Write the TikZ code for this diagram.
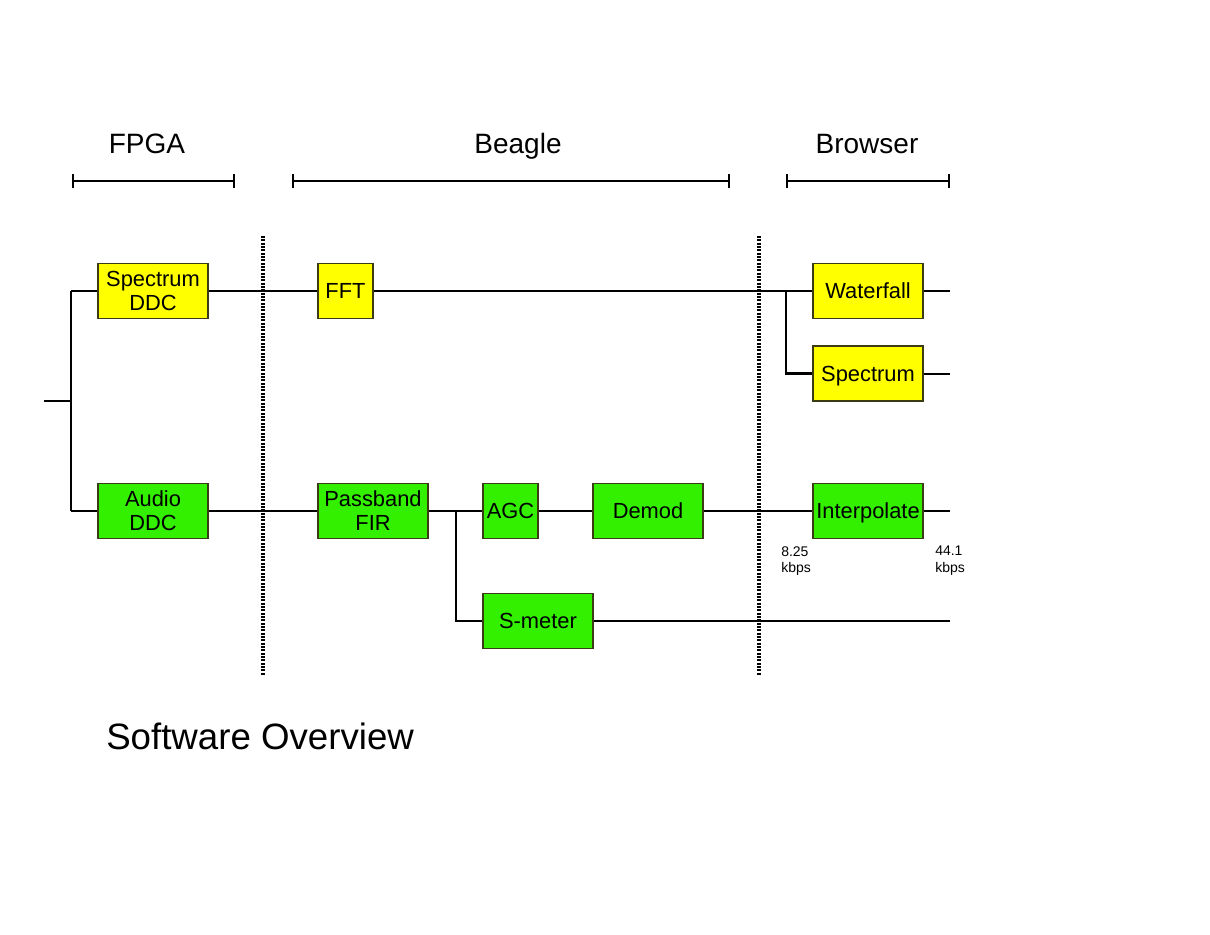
\documentclass[tikz,border=0pt]{standalone}
\usepackage{fontspec}
\setmainfont{Liberation Sans}
\definecolor{boxyellow}{RGB}{255,255,0}
\definecolor{boxgreen}{RGB}{51,240,0}
\definecolor{boxedge}{RGB}{60,60,20}
\begin{document}
\begin{tikzpicture}[x=0.75pt,y=-0.75pt,
  blk/.style={draw=boxedge,line width=0.8pt,minimum width=110*0.75pt,minimum height=55*0.75pt,inner sep=0pt,align=center,font=\fontsize{16.4}{18}\selectfont},
  one/.style={text height=11.8pt,text depth=0pt},
  sblk/.style={blk,minimum width=55*0.75pt},
  yel/.style={fill=boxyellow},
  grn/.style={fill=boxgreen},
  wire/.style={line width=1.5pt},
  sep/.style={line width=2.6pt,dash pattern=on 1.4pt off 1.1pt},
  brk/.style={line width=1.5pt,|-|},
  hdr/.style={font=\fontsize{21}{22}\selectfont,anchor=base,inner sep=0pt},
  rate/.style={font=\fontsize{10.5}{12.5}\selectfont,align=left,anchor=north west,inner sep=0pt}
]
\useasboundingbox (0,0) rectangle (1210,935);

% headers
\node[hdr] (hF) at (147,153.5) {FPGA};
\node[hdr] (hB) at (518,153.5) {Beagle};
\node[hdr] (hR) at (867,153.5) {Browser};
\coordinate (bF1) at (72,181); \coordinate (bF2) at (235,181);
\coordinate (bB1) at (292,181); \coordinate (bB2) at (730,181);
\coordinate (bR1) at (786,181); \coordinate (bR2) at (950,181);
\draw[brk] (bF1) -- (bF2);
\draw[brk] (bB1) -- (bB2);
\draw[brk] (bR1) -- (bR2);

% separators
\coordinate (s1a) at (263,236); \coordinate (s1b) at (263,675);
\coordinate (s2a) at (759,236); \coordinate (s2b) at (759,675);

% blocks
\node[blk,yel] (sddc) at (153,291) {Spectrum\\DDC};
\node[blk,grn] (addc) at (153,511) {Audio\\DDC};
\node[sblk,yel,one] (fft) at (345.5,291) {FFT};
\node[blk,grn] (fir) at (373,511) {Passband\\FIR};
\node[sblk,grn,one] (agc) at (510.5,511) {AGC};
\node[blk,grn,one] (demod) at (648,511) {Demod};
\node[blk,grn,one] (smeter) at (538,621) {S-meter};
\node[blk,yel,one] (wf) at (868,291) {Waterfall};
\node[blk,yel,one] (spec) at (868,373.5) {Spectrum};
\node[blk,grn,one] (interp) at (868,511) {Interpolate};

% coordinates for wires
\coordinate (in) at (44,401);
\coordinate (jin) at (71,401);
\coordinate (jt) at (71,291);
\coordinate (jb) at (71,511);
\coordinate (jfft) at (786,291);
\coordinate (jspec) at (786,373.5);
\coordinate (jfir) at (456,511);
\coordinate (jsm) at (456,621);
\coordinate (oWf) at (950,291);
\coordinate (oSp) at (950,373.5);
\coordinate (oIn) at (950,511);
\coordinate (oSm) at (950,621);

% wires
\draw[wire] (in) -- (jin);
\draw[wire] (jt) -- (jb);
\draw[wire] (jt) -- (sddc.west);
\draw[wire] (jb) -- (addc.west);
\draw[wire] (sddc.east) -- (fft.west);
\draw[wire] (fft.east) -- (wf.west);
\draw[line width=2.2pt] (jfft) -- (jspec) -- (spec.west);
\draw[wire] (wf.east) -- (oWf);
\draw[wire] (spec.east) -- (oSp);
\draw[wire] (addc.east) -- (fir.west);
\draw[wire] (fir.east) -- (agc.west);
\draw[wire] (jfir) -- (jsm) -- (smeter.west);
\draw[wire] (agc.east) -- (demod.west);
\draw[wire] (demod.east) -- (interp.west);
\draw[wire] (interp.east) -- (oIn);
\draw[wire] (smeter.east) -- (oSm);

\draw[sep] (s1a) -- (s1b);
\draw[sep] (s2a) -- (s2b);

% rates
\node[rate] (r1) at (781,546) {8.25\\kbps};
\node[rate] (r2) at (935,546) {44.1\\kbps};

% title
\node[font=\fontsize{27.5}{29}\selectfont,anchor=west,inner sep=0pt] (title) at (106,736) {Software Overview};
\end{tikzpicture}
\end{document}
